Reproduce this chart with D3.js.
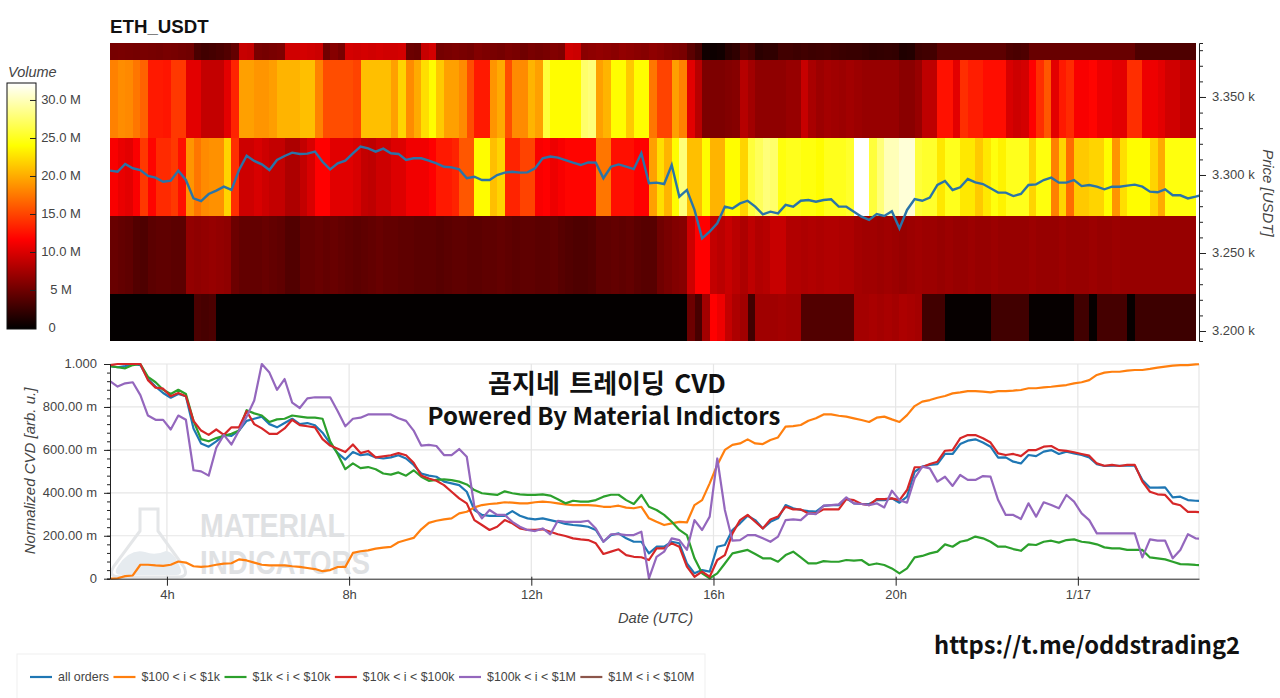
<!DOCTYPE html>
<html>
<head>
<meta charset="utf-8">
<script src="https://cdn.jsdelivr.net/npm/d3@7"></script>
<style>
  body { margin: 0; background: #fff; }
  text { font-family: "Liberation Sans", sans-serif; }
</style>
</head>
<body>
<div id="viz"></div>
<script>
// heatmap: traded volume per price band, in millions, one value per 10 min column
const priceEdges = [3193.6, 3223.7, 3273.7, 3323.7, 3373.7, 3384.6];

const band3194 = [
  0.2,0.2,0.2,0.2,0.2,0.2,0.2,0.2,0.2,0.2,
  0.2,3.5,3.3,3.5,0.2,0.2,0.2,0.2,0.2,0.2,
  0.2,0.2,0.2,0.2,0.2,0.2,0.2,0.2,0.2,0.2,
  0.2,0.2,0.2,0.2,0.2,0.2,0.2,0.2,0.2,0.2,
  0.2,0.2,0.2,0.2,0.2,0.2,0.2,0.2,0.2,0.2,
  0.2,0.2,0.2,0.2,0.2,0.2,0.2,0.2,0.2,0.2,
  0.2,0.2,0.2,0.2,0.2,0.2,0.2,0.2,0.2,0.2,
  0.2,0.2,0.2,0.2,0.2,0.2,5,3.3,7.5,11.8,
  11,9,8,7.5,3,7.4,7.4,7.4,7.6,7.4,
  7.4,3.8,3.8,3.8,3.8,3.8,3.8,3.8,7.6,7.6,
  7.8,7.6,7.8,7.6,8,7.8,7.6,3,3,3,
  0.3,0.3,0.3,0.3,0.3,0.3,3,3,3,3,
  3,0.3,0.3,0.3,0.3,0.3,0.3,3,3,0.3,
  3.2,3.2,3.2,3.2,0.3,2.8,2.8,2.8,2.8,2.8,
  2.8,2.8,2.8
];
const band3225 = [
  4.8,4.6,4.4,3.8,3.6,4.2,4.4,4.4,4.2,4.2,
  6.8,6.6,6.8,7,6.8,6.6,5,4.6,4.6,4.6,
  4.8,4.6,4.4,3.8,3.8,4.6,4.6,4.8,4.6,4.8,
  4.6,4.4,4.2,4.4,4.6,4.8,4.6,4.6,4.4,4.4,
  4.2,4.2,4.2,4,4.2,4.4,4.4,4.2,4.2,4.4,
  4.4,4.6,4.4,4.2,4.4,4.4,4.2,4.2,4.4,4,
  3.8,3.6,3.6,3.8,4.4,4.4,4.6,4.4,4.6,4.2,
  4,4,5.2,5.6,6,6.2,9.5,11.8,11.8,9,
  8.6,9.2,8.6,8,8.8,8.2,8.4,9.2,9.2,8.2,
  8.2,8,8.2,8,8.2,8.2,8,8,7.6,7.4,
  7.4,7.2,7.4,7.2,7,7.2,7.4,7.2,7.2,7,
  7.2,7,7,7.2,7,7,7.2,7,7,7,
  7,7.2,7,7,7,7.2,7,7,7,7.2,
  7,7,7.2,7,7,7,7,7,7,7,
  7,7,7
];
const band3275 = [
  11.5,10.8,10.5,11.6,14.5,12,13.8,13.8,14.5,12.5,
  19,17.5,18.5,18.8,18.8,22,14,9.5,9.5,10,
  9.5,9,9,8,8,9,10,11.8,11.8,10.4,
  10.4,10.4,10,9,8.8,9.5,9.5,10.2,10.2,11.2,
  11.2,11.2,11.8,13,13,13.5,16,16,24,24,
  21,22,13.5,13.5,15,15,11.5,11.8,11,11.5,
  12,12,12,12,17.5,17.5,12.5,12.5,12.5,11.8,
  11.8,19.5,22.5,20.5,24,28,21,21,24,20.5,
  20.5,24,24,22,26,27,28,27.5,24.5,25,
  25,24.5,24.5,24,25,25,25,25.5,32.3,32.3,
  26,28,30,30,31,31,26,25.5,25.5,23,
  25,25,23,23,21.5,23,24.5,23.5,25,25,
  25,22,24.5,24.5,18,22,17,21.5,21.5,22,
  22,24,19,22.5,24,24,24,22,20,24.5,
  24.5,24.5,24.5
];
const band3325 = [
  18,18.6,18.4,17.5,16.5,13,13,12.8,14.5,14.5,
  10.5,10.5,9,9,9,10.5,13.5,19.5,19.5,19,
  19,19.4,20.5,20.5,20.5,21,21,18,15.5,15.5,
  15.5,15.5,15,21,21,21,21,19.5,22,18.5,
  20,22.5,24,21.5,19.5,19.5,18.5,15.5,13,13,
  19,20,15.5,18.5,18.5,20.5,19.5,26,24,24,
  24,24,27.5,28,19.5,20.5,24,24,21.5,24,
  24,17.5,15,15,19.5,18,10.5,8.5,5.8,5.8,
  5.8,6,6.2,8.4,7.5,6.6,6.6,6.6,6.6,7,
  7,9.2,7.8,7.2,7.6,7.4,7.2,7.5,7.2,7,
  7,7,7,7,6.4,6.4,7,8.8,8.8,12.6,
  12.6,10.5,14,13.2,13.2,12.4,12.4,12.4,10,9.5,
  9.8,11.8,14,16,10.5,13,13.8,11.5,11.5,12,
  11,11,10.5,10.5,14,14,11,11,10.5,9.6,
  9.6,8.8,8.8
];
const band3375 = [
  5.5,5.6,5.5,5.4,5.6,5.5,5.4,5.6,5.5,5.3,
  5.2,3.4,3,3.2,3.4,3.8,4.6,9.2,9,5.6,
  5.4,5.6,5.8,9.6,9.6,9.8,9.6,9.4,5.2,6.2,
  5.6,9.8,9.6,9.8,9.6,9.8,9.6,9.6,9.8,5,
  4.8,9.2,9.8,5.4,5.6,5.8,5.6,5.4,6,5.8,
  5.6,5.4,5.8,5.6,5.2,5.6,5.4,5.6,6,5.8,
  9.6,9.4,6.4,6.6,6.8,6.6,6.4,6.8,6.6,6.4,
  6.2,6.6,6.4,6,5.8,5.6,4.2,3.2,0.8,0.6,
  0.8,1.8,2.2,3.6,3.2,2,2.2,2.2,3,3,
  2.8,3,2.8,2.9,3,2.8,2.7,2.6,2.6,2.4,
  2.2,2.3,2.4,2.3,1.5,1.6,2.8,3,3.1,4.3,
  4.3,4.3,4.3,4.3,4.3,4.3,4.3,4.3,3.6,3.4,
  3.6,4.8,4.8,4.8,4.8,4.8,4.8,4.8,4.8,4.8,
  4.8,4.8,4.8,4.8,4.8,3.6,3.6,3.6,3.6,3.6,
  3.6,3.6,3.6
];

// price line in USDT, one value per 10 min from the left edge
const priceUsdt = [
  3302.8,3302.1,3307.1,3304.3,3303.2,3299.4,3298.3,3295.7,3296.4,3302.8,
  3296.8,3285.0,3283.3,3287.8,3290.0,3292.5,3290.4,3303.2,3312.4,3309.0,
  3306.8,3303.2,3309.6,3312.2,3314.3,3313.5,3313.7,3315.0,3308.5,3303.6,
  3307.5,3309.2,3313.9,3318.2,3317.1,3315.0,3316.9,3313.9,3313.5,3309.6,
  3310.7,3310.7,3309.2,3307.5,3305.3,3304.9,3303.6,3297.9,3298.9,3296.8,
  3296.8,3300.0,3301.5,3302.1,3301.5,3301.7,3304.3,3310.7,3311.8,3311.1,
  3309.6,3307.9,3306.4,3308.1,3307.9,3297.9,3305.3,3306.8,3305.3,3303.8,
  3313.9,3294.7,3295.1,3294.2,3306.4,3286.1,3290.4,3277.6,3259.4,3263.7,
  3269.0,3279.7,3278.6,3281.8,3283.5,3279.7,3274.8,3276.5,3275.4,3280.8,
  3279.7,3283.5,3284.0,3282.9,3284.0,3284.4,3279.7,3279.7,3276.5,3273.3,
  3271.2,3275.0,3273.7,3276.7,3265.8,3277.6,3284.6,3283.5,3285.5,3293.6,
  3296.2,3290.4,3292.1,3297.4,3295.3,3294.2,3291.5,3288.7,3288.7,3286.5,
  3287.8,3293.6,3294.0,3296.8,3298.3,3295.1,3295.1,3296.8,3292.9,3293.6,
  3292.5,3290.8,3292.5,3292.5,3293.2,3293.8,3292.5,3289.3,3288.9,3290.8,
  3287.0,3287.0,3285.0,3286.1,3287.5
];

// normalized CVD in milli units, same time steps as the price line
const cvdAll = [
  990,985,990,1000,995,930,895,865,843,860,
  850,700,630,615,640,670,665,690,735,745,
  755,720,705,725,745,720,725,715,680,630,
  585,555,590,575,580,565,560,565,575,560,
  530,490,480,475,452,444,436,405,320,297,
  293,293,293,315,293,281,276,281,273,265,
  255,250,247,242,227,172,203,211,188,172,
  172,118,149,149,172,165,71,25,40,33,
  149,157,227,258,293,273,234,265,281,343,
  328,320,315,312,339,342,343,374,351,348,
  348,366,366,374,354,382,498,522,530,534,
  581,581,627,643,649,634,615,564,565,545,
  537,576,571,592,599,581,592,584,576,565,
  533,525,526,526,526,526,460,424,424,425,
  379,382,366,363,362
];
const cvd100 = [
  0,2,12,15,65,65,62,60,65,80,
  75,58,55,58,65,70,72,90,85,75,
  65,62,62,62,58,55,50,45,35,40,
  55,55,120,128,132,140,145,148,170,180,
  190,230,260,270,276,281,304,312,332,343,
  348,351,356,354,351,351,356,359,356,351,
  346,343,343,343,340,335,335,340,331,328,
  335,281,265,250,258,265,262,343,366,444,
  530,600,623,630,649,630,627,646,658,708,
  711,716,736,747,765,765,759,755,747,739,
  730,750,755,742,730,762,804,825,832,843,
  851,863,868,874,874,871,868,874,874,876,
  879,887,887,891,894,898,902,910,915,925,
  949,960,964,964,969,972,972,977,983,988,
  992,995,995,998,1000
];
const cvd1k = [
  990,985,980,995,1000,940,915,880,860,880,
  860,735,650,640,655,665,675,690,785,770,
  760,730,742,745,760,755,750,750,745,640,
  580,510,537,515,520,510,490,485,495,480,
  505,475,456,460,463,459,452,439,413,398,
  394,390,407,398,393,390,390,393,387,370,
  351,363,359,359,366,382,391,391,366,348,
  390,335,320,297,265,227,203,95,25,2,
  25,71,118,126,134,115,95,95,79,110,
  126,99,71,71,82,79,79,87,84,87,
  64,71,64,48,25,48,99,106,118,126,
  160,149,172,180,196,188,172,149,149,138,
  130,160,157,172,177,168,180,183,172,168,
  160,146,141,141,134,134,134,99,95,90,
  79,68,67,64,63
];
const cvd10k = [
  995,1000,1000,1000,1000,925,890,885,850,865,
  850,735,690,670,695,670,705,705,780,720,
  700,675,675,700,740,715,710,705,650,620,
  605,590,625,585,595,565,570,575,585,575,
  540,480,467,456,436,405,374,351,273,250,
  227,242,273,258,234,227,227,230,219,207,
  199,188,183,180,165,115,126,137,110,102,
  100,87,141,141,165,149,56,9,33,9,
  87,110,211,273,297,265,234,276,289,335,
  323,323,304,304,323,323,323,371,366,348,
  343,371,371,374,366,413,519,519,534,545,
  596,599,654,669,669,654,634,584,576,581,
  571,599,599,615,618,599,595,589,581,573,
  537,526,530,525,530,530,452,405,393,390,
  351,342,311,311,310
];
const cvd100k = [
  920,895,910,915,855,760,740,740,695,760,
  740,505,500,480,610,670,625,690,755,830,
  1000,960,880,930,820,795,840,845,845,845,
  780,710,745,750,765,765,765,765,747,735,
  690,620,623,618,576,576,604,568,335,281,
  320,297,297,265,242,227,222,234,207,270,
  265,265,265,270,234,172,207,208,203,203,
  219,2,102,126,188,180,134,273,227,289,
  560,320,177,180,203,203,188,172,196,273,
  276,273,304,301,340,343,346,379,351,348,
  343,351,332,410,366,354,467,522,514,452,
  475,432,483,460,460,478,475,366,297,297,
  278,351,289,356,343,328,390,359,304,273,
  211,211,211,211,211,211,99,183,177,177,
  95,134,207,188,186
];
const cvd1m = [];

const seriesNames = ['all orders', '$100 < i < $1k', '$1k < i < $10k', '$10k < i < $100k', '$100k < i < $1M', '$1M < i < $10M'];
const seriesColors = ['#1f77b4', '#ff7f0e', '#2ca02c', '#d62728', '#9467bd', '#8c564b'];
const seriesValues = [cvdAll, cvd100, cvd1k, cvd10k, cvd100k, cvd1m];

const timeTicks = [4, 8, 12, 16, 20, 24];
const timeLabels = ['4h', '8h', '12h', '16h', '20h', '1/17'];
const priceTicks = [3200, 3250, 3300, 3350];
const volumeTicks = [0, 5, 10, 15, 20, 25, 30];
const cvdTicks = [0, 200, 400, 600, 800, 1000];

const startHour = 2.75;
const stepHours = 1 / 6;
const endHour = 26.66;
const volumeMax = 32.3;

const svg = d3.select('#viz').append('svg').attr('width', 1280).attr('height', 698);
const inkGrey = '#444';

const x = d3.scaleLinear().domain([startHour, endHour]).range([110, 1199]);
const yPrice = d3.scaleLinear().domain([priceEdges[0], priceEdges[5]]).range([341, 43]);
const yCvd = d3.scaleLinear().domain([0, 1000]).range([578.7, 364]);
const yVolume = d3.scaleLinear().domain([0, volumeMax]).range([328.5, 83]);

// hot palette, black through red and yellow to white
const hot = d3.scaleLinear()
  .domain([0, 0.365, 0.746, 1].map((f) => f * volumeMax))
  .range(['#000000', '#ff0000', '#ffff00', '#ffffff'])
  .clamp(true);

const timeOf = (i) => startHour + i * stepHours;

svg.append('defs').append('clipPath').attr('id', 'priceClip')
  .append('rect').attr('x', 110).attr('y', 43).attr('width', 1089).attr('height', 298);
svg.select('defs').append('clipPath').attr('id', 'cvdClip')
  .append('rect').attr('x', 110).attr('y', 362).attr('width', 1089).attr('height', 218);

// heatmap
[band3194, band3225, band3275, band3325, band3375].forEach((band, b) => {
  svg.append('g').attr('shape-rendering', 'crispEdges')
    .selectAll('rect').data(band).join('rect')
    .attr('x', (d, i) => x(timeOf(i)))
    .attr('width', (d, i) => x(timeOf(i + 1)) - x(timeOf(i)) + 0.5)
    .attr('y', yPrice(priceEdges[b + 1]))
    .attr('height', yPrice(priceEdges[b]) - yPrice(priceEdges[b + 1]))
    .attr('fill', (d) => hot(d));
});

svg.append('path').datum(priceUsdt)
  .attr('clip-path', 'url(#priceClip)')
  .attr('fill', 'none').attr('stroke', '#2a74a8').attr('stroke-width', 2.4)
  .attr('d', d3.line().x((d, i) => x(timeOf(i))).y((d) => yPrice(d)));

// price axis
const priceAxis = svg.append('g').attr('transform', 'translate(1199,0)')
  .call(d3.axisRight(yPrice).tickValues(d3.range(3200, 3390, 10)).tickSize(4).tickFormat(''));
priceAxis.select('.domain').attr('stroke', '#222');
priceAxis.selectAll('.tick line').attr('stroke', '#222');

const priceMajor = svg.append('g').attr('transform', 'translate(1199,0)')
  .call(d3.axisRight(yPrice).tickValues(priceTicks).tickSize(7)
    .tickFormat((d) => (d / 1000).toFixed(3) + ' k'));
priceMajor.select('.domain').remove();
priceMajor.selectAll('.tick line').attr('stroke', '#222');
priceMajor.selectAll('.tick text').attr('x', 13).attr('dy', '0.25em').attr('fill', inkGrey)
  .style('font-size', '13px').style('font-family', '"Liberation Sans"');

svg.append('text')
  .attr('transform', 'translate(1263,193) rotate(90)')
  .attr('text-anchor', 'middle').attr('fill', inkGrey)
  .style('font-size', '15px').style('font-style', 'italic')
  .text('Price [USDT]');

svg.append('text').attr('x', 110).attr('y', 33)
  .style('font-size', '18.7px').style('font-weight', 700).attr('fill', '#111')
  .text('ETH_USDT');

// colour bar
const barGradient = svg.select('defs').append('linearGradient')
  .attr('id', 'hotBar').attr('x1', 0).attr('x2', 0).attr('y1', 1).attr('y2', 0);
hot.domain().forEach((v) => {
  barGradient.append('stop').attr('offset', v / volumeMax).attr('stop-color', hot(v));
});

svg.append('rect').attr('x', 7).attr('y', 83).attr('width', 29).attr('height', 246)
  .attr('fill', 'url(#hotBar)').attr('stroke', '#111').attr('stroke-width', 1);

const volumeFormat = (d) => (d === 0 ? '0' : d === 5 ? '5 M' : d.toFixed(1) + ' M');
const barTicks = svg.append('g').selectAll('g').data(volumeTicks).join('g')
  .attr('transform', (d) => `translate(0,${yVolume(d)})`);
barTicks.filter((d) => d > 0).append('line')
  .attr('x1', 30).attr('x2', 36).attr('stroke', '#222');
barTicks.append('text')
  .attr('x', (d) => (d === 0 ? 52 : 61)).attr('dy', '0.3em')
  .attr('text-anchor', 'middle').attr('fill', inkGrey)
  .style('font-size', '13px')
  .text(volumeFormat);

svg.append('text').attr('x', 8).attr('y', 77).attr('fill', inkGrey)
  .style('font-size', '14.5px').style('font-style', 'italic')
  .text('Volume');

// CVD panel: outline and grid
const grid = svg.append('g').attr('stroke', '#e6e6e6').attr('stroke-width', 1.2);
grid.selectAll('.gx').data(timeTicks).join('line').attr('class', 'gx')
  .attr('x1', (d) => x(d)).attr('x2', (d) => x(d))
  .attr('y1', yCvd(1000)).attr('y2', yCvd(0));
grid.selectAll('.gy').data(cvdTicks.slice(1)).join('line').attr('class', 'gy')
  .attr('x1', 110).attr('x2', 1199)
  .attr('y1', (d) => yCvd(d)).attr('y2', (d) => yCvd(d));
grid.append('line').attr('x1', 1199).attr('x2', 1199).attr('y1', yCvd(1000)).attr('y2', yCvd(0));

// watermark sits under the lines
const mark = svg.append('g');
mark.append('path')
  .attr('d', 'M118 566 Q130 548 145 552 Q155 556 166 551 Q175 552 181 570 Q182 575 176 575 H122 Q112 575 118 566Z')
  .attr('fill', '#e6ebef');
mark.append('path')
  .attr('d', 'M140 509 H158 V531 L184 567 Q189 577 178 577 H120 Q107 577 114 566 L140 531 Z')
  .attr('fill', 'none').attr('stroke', '#e4e6e8').attr('stroke-width', 3);
mark.selectAll('text').data(['MATERIAL', 'INDICATORS']).join('text')
  .attr('x', 200).attr('y', (d, i) => 537 + i * 37)
  .attr('textLength', (d, i) => (i ? 170 : 145)).attr('lengthAdjust', 'spacingAndGlyphs')
  .attr('fill', '#dfe1e3')
  .style('font-size', '34px').style('font-weight', 700)
  .text((d) => d);

const cvdLine = d3.line().x((d, i) => x(timeOf(i))).y((d) => yCvd(d));
svg.append('g').attr('clip-path', 'url(#cvdClip)')
  .selectAll('path').data(seriesValues).join('path')
  .attr('fill', 'none').attr('stroke-width', 2.2).attr('stroke-linejoin', 'round')
  .attr('stroke', (d, i) => seriesColors[i])
  .attr('d', (d) => (d.length ? cvdLine(d) : null));

// CVD axes
const cvdMinor = svg.append('g').attr('transform', 'translate(110,0)')
  .call(d3.axisLeft(yCvd).tickValues(d3.range(0, 1001, 40)).tickSize(3).tickFormat(''));
cvdMinor.select('.domain').attr('stroke', '#222');
cvdMinor.selectAll('.tick line').attr('stroke', '#222');

const cvdMajor = svg.append('g').attr('transform', 'translate(110,0)')
  .call(d3.axisLeft(yCvd).tickValues(cvdTicks).tickSize(6)
    .tickFormat((d) => (d === 0 ? '0' : d === 1000 ? '1.000' : d.toFixed(2) + ' m')));
cvdMajor.select('.domain').remove();
cvdMajor.selectAll('.tick line').attr('stroke', '#222');
cvdMajor.selectAll('.tick text').attr('x', -13).attr('dy', '0.3em').attr('fill', inkGrey)
  .style('font-size', '13px').style('font-family', '"Liberation Sans"');

const timeAxis = svg.append('g').attr('transform', `translate(0,${yCvd(0)})`)
  .call(d3.axisBottom(x).tickValues(timeTicks).tickSize(7).tickSizeOuter(0)
    .tickFormat((d, i) => timeLabels[i]));
timeAxis.select('.domain').attr('stroke', '#222');
timeAxis.selectAll('.tick line').attr('stroke', '#222').attr('y1', -2);
timeAxis.selectAll('.tick text').attr('y', 11).attr('fill', inkGrey)
  .style('font-size', '13px').style('font-family', '"Liberation Sans"');

svg.append('text').attr('x', 655.5).attr('y', 623)
  .attr('text-anchor', 'middle').attr('fill', inkGrey)
  .style('font-size', '14.7px').style('font-style', 'italic')
  .text('Date (UTC)');

svg.append('text')
  .attr('transform', 'translate(35,471) rotate(-90)')
  .attr('text-anchor', 'middle').attr('fill', inkGrey)
  .style('font-size', '15px').style('font-style', 'italic')
  .text('Normalized CVD [arb. u.]');

// overlay captions
const cjk = '"Noto Sans CJK KR", sans-serif';
svg.append('text').attr('x', 607).attr('y', 393).attr('text-anchor', 'middle')
  .style('font-family', cjk).style('font-size', '26px').style('font-weight', 700)
  .style('word-spacing', '3.5px')
  .attr('fill', '#111').text('곰지네 트레이딩 CVD');
svg.append('text').attr('x', 604).attr('y', 425).attr('text-anchor', 'middle')
  .style('font-family', cjk).style('font-size', '24px').style('font-weight', 700)
  .attr('fill', '#111').text('Powered By Material Indictors');
svg.append('text').attr('x', 1087).attr('y', 654).attr('text-anchor', 'middle')
  .style('font-family', cjk).style('font-size', '23.7px').style('font-weight', 700)
  .attr('fill', '#111').text('https://t.me/oddstrading2');

// legend
svg.append('rect').attr('x', 17).attr('y', 654).attr('width', 688).attr('height', 50)
  .attr('fill', '#fff').attr('stroke', '#efefef');
let legendX = 30;
seriesNames.forEach((name, i) => {
  svg.append('line')
    .attr('x1', legendX).attr('x2', legendX + 22).attr('y1', 677).attr('y2', 677)
    .attr('stroke', seriesColors[i]).attr('stroke-width', 2.2);
  const label = svg.append('text').attr('x', legendX + 28).attr('y', 681)
    .attr('fill', inkGrey).style('font-size', '12.4px').text(name);
  legendX += 28 + label.node().getComputedTextLength() + 4.5;
});
</script>
</body>
</html>
